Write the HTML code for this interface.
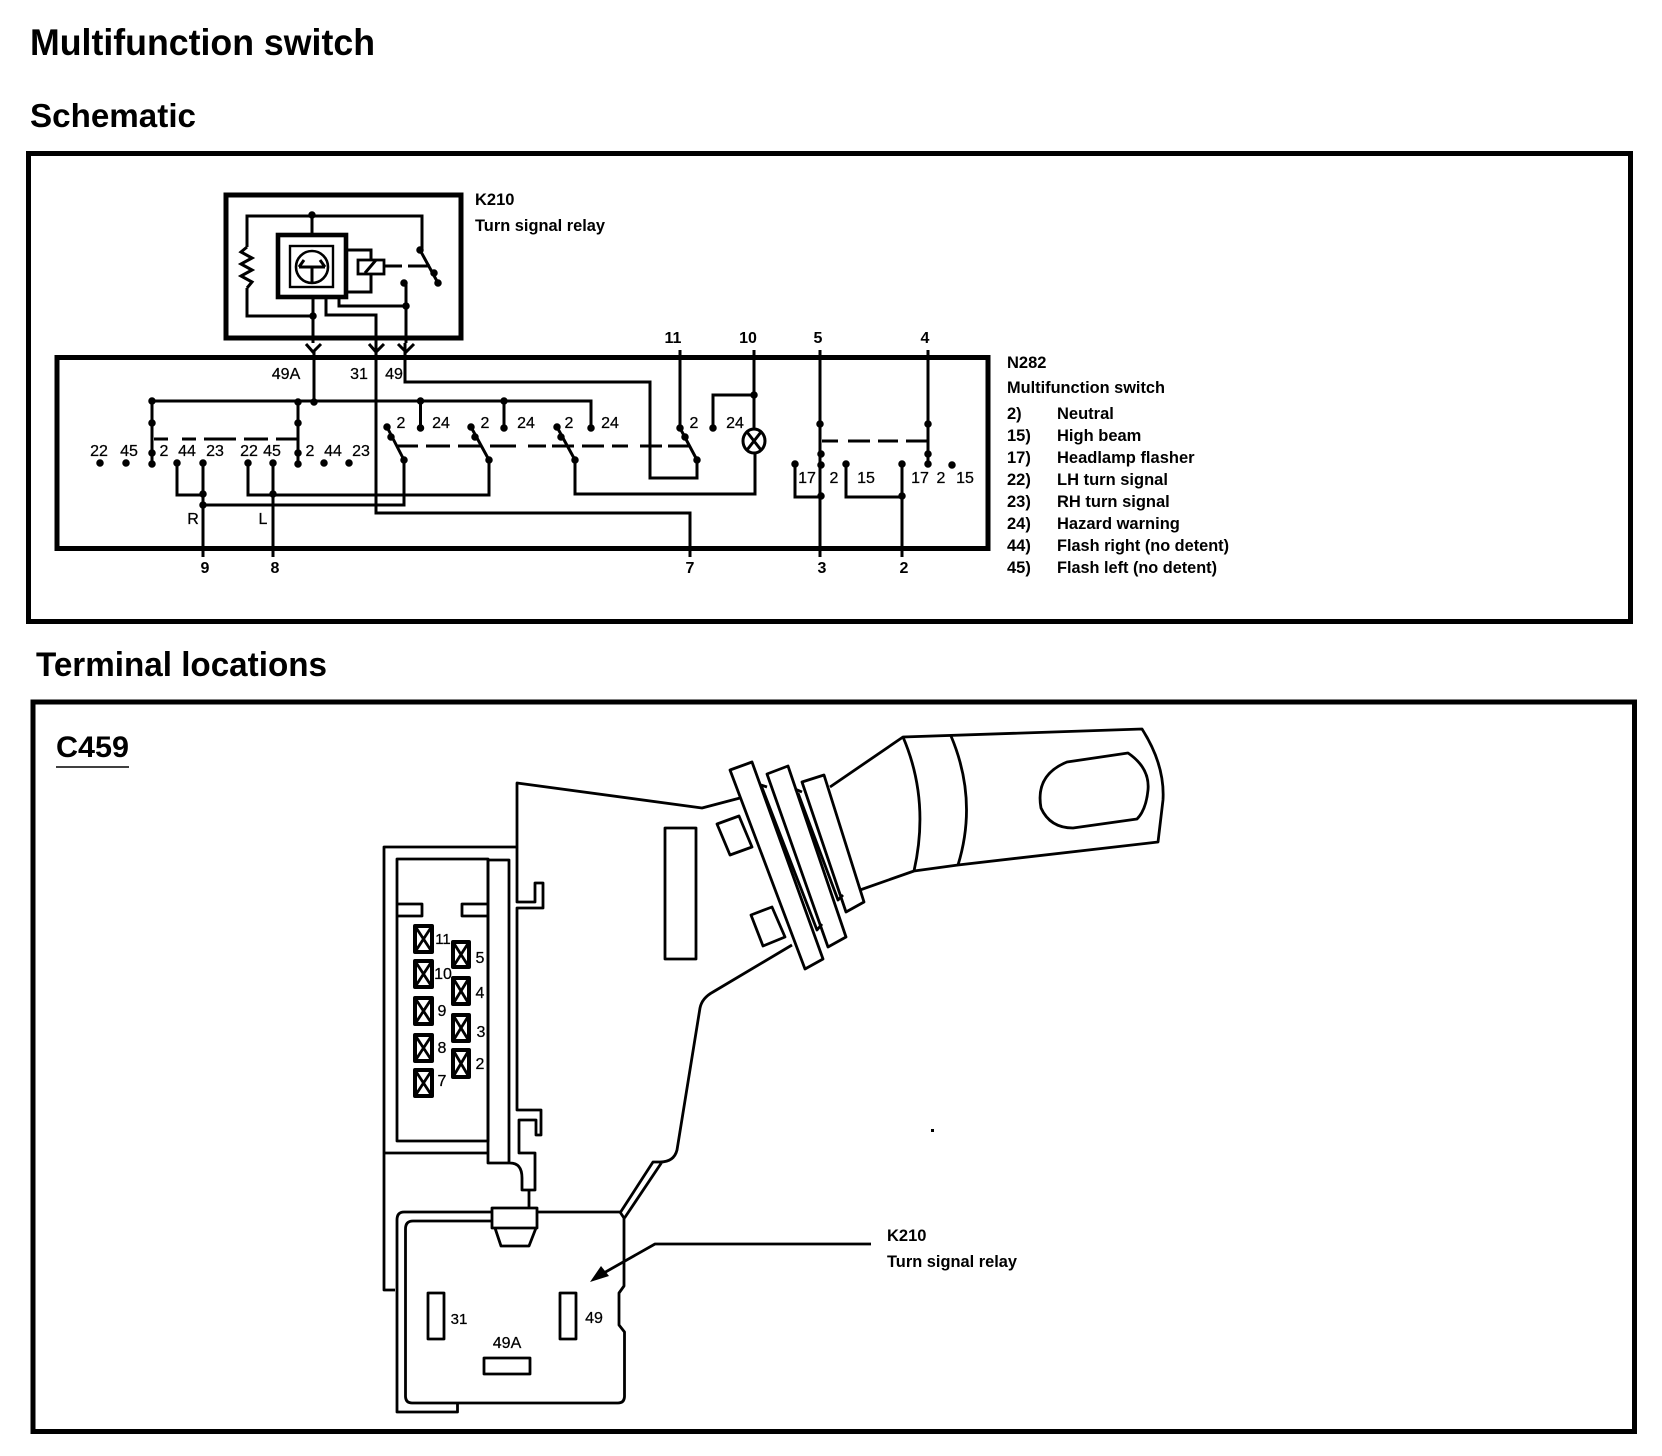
<!DOCTYPE html>
<html><head><meta charset="utf-8"><title>Multifunction switch</title>
<style>
html,body{margin:0;padding:0;background:#fff}
svg{display:block}
text{font-family:"Liberation Sans",sans-serif;fill:#000}
.b{font-weight:bold}
.h{font-weight:bold}
.l{fill:none;stroke:#000;stroke-width:3;stroke-linejoin:miter}
.t{fill:none;stroke:#000;stroke-width:2.8;stroke-linejoin:round}
.f{fill:none;stroke:#000;stroke-width:5}
.d{fill:none;stroke:#000;stroke-width:7.5;stroke-linecap:round}
.n{font-size:16px;text-anchor:middle;stroke:#000;stroke-width:.25}
.s{font-size:16px;font-weight:bold;text-anchor:middle}
.k{font-size:16.5px;font-weight:bold}
.x{fill:#fff;stroke:#000;stroke-width:4}
</style></head><body>
<svg width="1662" height="1456" viewBox="0 0 1662 1456" xmlns="http://www.w3.org/2000/svg">
<rect width="1662" height="1456" fill="#fff"/>
<text class="h" x="30" y="55" font-size="37" textLength="345" lengthAdjust="spacingAndGlyphs">Multifunction switch</text>
<text class="h" x="30" y="127" font-size="33" textLength="166" lengthAdjust="spacingAndGlyphs">Schematic</text>
<text class="h" x="36" y="676" font-size="34" textLength="291" lengthAdjust="spacingAndGlyphs">Terminal locations</text>
<rect class="f" x="28.5" y="153.5" width="1602" height="468"/>
<rect class="f" x="33" y="702" width="1601.5" height="729.5"/>

<!-- K210 block -->
<rect class="f" x="226" y="195" width="235" height="143"/>
<path class="l" d="M247 288V316H313M247 247V216H422V250M312 216V235M313 297V343M326 297V315H376V343M339 297V306H406M406 283V343"/>
<path class="l" stroke-width="2.4" d="M247 247l-6 5 11 6-11 6 11 6-11 6 11 6-5 6"/>
<rect x="278" y="235" width="68" height="62" fill="none" stroke="#000" stroke-width="4.6"/>
<rect x="290" y="246" width="43" height="41" fill="none" stroke="#000" stroke-width="2.4"/>
<circle cx="312" cy="267" r="16" fill="none" stroke="#000" stroke-width="2.6"/>
<path class="l" stroke-width="2.4" d="M299 267H325M312 267V283M299 267l5-7M325 267l-5-7"/>
<path class="l" d="M348 250H371V260M348 292H371V273"/>
<rect x="358" y="260" width="26" height="14" fill="none" stroke="#000" stroke-width="2.8"/>
<path class="l" stroke-width="2" d="M365 273L376 260"/>
<path class="l" d="M385 266H402M408 266H430M420 250L438 283"/>
<path class="l" d="M306 344L313 352L321 344M369 344L376 352L384 344M398 344L406 352L414 344"/>

<!-- N282 block -->
<rect class="f" x="57" y="357.5" width="931" height="191"/>
<path class="l" d="M314 350V402M376 343V513H690V557M405 343V382H650V478H697V460M152 401H591V428M152 401V465M298 401V465M420.5 401V428M504 401V428"/>
<path class="l" d="M154 439H168M182 439H196M204 439H236M244 439H268M276 439H298" />
<path class="l" d="M177 463V495H203M203 463V557M248 463V495H489V460M273 463V557M404 460V505H203"/>
<path class="l" d="M387 427L404 460M471 427L489 460M557 427L575 460M680 428L697 460M575 460V494H755V453M680 350V428M754 350V429M754 395H713V428"/>
<path class="l" d="M397 446H418M426 446H450M458 446H482M490 446H516M528 446H546M552 446H574M582 446H604M612 446H628M640 446H662M668 446H690"/>
<ellipse cx="754" cy="441" rx="11" ry="12" class="l"/>
<path class="l" d="M747 432L761 450M761 432L747 450"/>
<path class="l" d="M820 350V557M928 350V465M822 441H838M848 441H870M878 441H898M906 441H928"/>
<path class="l" d="M795 464V497H821M846 464V497H902M902 464V557"/>
<path class="d" d="M152 401h0M298 402h0M314 402h0M420.5 401h0M504 401h0M152 423h0M298 423h0M152 453h0M298 453h0M100 463h0M126 463h0M152 464h0M177 463h0M203 463h0M248 463h0M273 463h0M298 464h0M324 463h0M349 463h0M203 494h0M203 505h0M273 494h0M387 427h0M391 437h0M404 460h0M471 427h0M475 437h0M489 460h0M557 427h0M561 437h0M575 460h0M680 428h0M685 437h0M697 460h0M420.5 428h0M504 428h0M591 428h0M713 428h0M754 395h0M820 424h0M821 454h0M821 465h0M821 496h0M928 424h0M928 454h0M928 464h0M795 464h0M846 464h0M902 464h0M902 496h0M952 465h0M312 215h0M313 316h0M420 250h0M434 273h0M438 283h0M404 283h0M406 306h0"/>

<g class="n">
<text class="n" x="99" y="456">22</text><text class="n" x="129" y="456">45</text><text class="n" x="164" y="456">2</text><text class="n" x="187" y="456">44</text><text class="n" x="215" y="456">23</text>
<text class="n" x="249" y="456">22</text><text class="n" x="272" y="456">45</text><text class="n" x="310" y="456">2</text><text class="n" x="333" y="456">44</text><text class="n" x="361" y="456">23</text>
<text class="n" x="401" y="428">2</text><text class="n" x="441" y="428">24</text><text class="n" x="485" y="428">2</text><text class="n" x="526" y="428">24</text><text class="n" x="569" y="428">2</text><text class="n" x="610" y="428">24</text><text class="n" x="694" y="428">2</text><text class="n" x="735" y="428">24</text>
<text class="n" x="286" y="379">49A</text><text class="n" x="359" y="379">31</text><text class="n" x="394" y="379">49</text>
<text class="n" x="193" y="524">R</text><text class="n" x="263" y="524">L</text>
<text class="n" x="807" y="483">17</text><text class="n" x="834" y="483">2</text><text class="n" x="866" y="483">15</text><text class="n" x="920" y="483">17</text><text class="n" x="941" y="483">2</text><text class="n" x="965" y="483">15</text>
</g>
<text class="s" x="673" y="343">11</text><text class="s" x="748" y="343">10</text><text class="s" x="818" y="343">5</text><text class="s" x="925" y="343">4</text>
<text class="s" x="205" y="573">9</text><text class="s" x="275" y="573">8</text><text class="s" x="690" y="573">7</text><text class="s" x="822" y="573">3</text><text class="s" x="904" y="573">2</text>

<text class="k" x="475" y="205">K210</text>
<text class="k" x="475" y="231" textLength="130" lengthAdjust="spacingAndGlyphs">Turn signal relay</text>
<text class="k" x="1007" y="368">N282</text>
<text class="k" x="1007" y="393" textLength="158" lengthAdjust="spacingAndGlyphs">Multifunction switch</text>
<text class="k" x="1007" y="419">2)</text><text class="k" x="1057" y="419">Neutral</text>
<text class="k" x="1007" y="441">15)</text><text class="k" x="1057" y="441">High beam</text>
<text class="k" x="1007" y="463">17)</text><text class="k" x="1057" y="463">Headlamp flasher</text>
<text class="k" x="1007" y="485">22)</text><text class="k" x="1057" y="485">LH turn signal</text>
<text class="k" x="1007" y="507">23)</text><text class="k" x="1057" y="507">RH turn signal</text>
<text class="k" x="1007" y="529">24)</text><text class="k" x="1057" y="529">Hazard warning</text>
<text class="k" x="1007" y="551">44)</text><text class="k" x="1057" y="551" textLength="172" lengthAdjust="spacingAndGlyphs">Flash right (no detent)</text>
<text class="k" x="1007" y="573">45)</text><text class="k" x="1057" y="573" textLength="160" lengthAdjust="spacingAndGlyphs">Flash left (no detent)</text>

<!-- Terminal locations -->
<text class="h" x="56" y="757" font-size="30" textLength="73" lengthAdjust="spacingAndGlyphs">C459</text>
<path d="M56 767H129" stroke="#000" stroke-width="1.5"/>

<!-- switch body -->
<path class="t" d="M740 798L702 808L517 783V902H535V883H543V908H517V1110H541V1135H536V1120H519V1153H535V1190H522V1178Q522 1163 510 1163H488V860H509V1163"/>
<path class="t" d="M517 847H384V1290H395M384 1153H488"/>
<rect class="t" x="397" y="859" width="91" height="282"/>
<path class="t" d="M398 904H422V916H398M487 904H462V916H487"/>
<rect class="t" x="665" y="828" width="31" height="131"/>
<path class="t" d="M792 945L713 992Q702 998 700 1008L677 1150Q674 1162 660 1162H653L620 1213M662 1162L624.5 1218"/>

<!-- lever -->
<path class="t" d="M730 770L752 762L823 959L805 969Z"/>
<path class="t" d="M767 774L788 766L846 937L828 947Z"/>
<path class="t" d="M802 782L824 775L864 902L846 912Z"/>
<path class="t" d="M761 785L767 787M761 785L817 930L822 924M795 789L802 792M798 793L838 900L843 895"/>
<path class="t" d="M717 824L739 816L752 847L730 855Z"/>
<path class="t" d="M751 915L772 907L785 937L763 946Z"/>
<path class="t" d="M830 787L903 737L1142 729Q1165 765 1163 800L1158 842L958 865L914 871L860 890"/>
<path class="t" d="M903 737Q930 800 914 871M951 736Q978 800 958 865"/>
<path class="t" d="M1067 762L1128 753Q1150 768 1148 790Q1146 810 1137 819L1073 828Q1050 828 1041 808Q1035 775 1067 762Z"/>

<!-- terminals -->
<g class="t" stroke-width="1.8">
<rect class="x" x="415" y="926" width="17" height="26"/><rect class="x" x="415" y="961" width="17" height="26"/><rect class="x" x="415" y="998" width="17" height="26"/><rect class="x" x="415" y="1035" width="17" height="26"/><rect class="x" x="415" y="1070" width="17" height="26"/>
<rect class="x" x="453" y="942" width="16" height="25"/><rect class="x" x="453" y="978" width="16" height="26"/><rect class="x" x="453" y="1015" width="16" height="26"/><rect class="x" x="453" y="1050" width="16" height="27"/>
</g>
<path class="t" d="M415 926l17 26M432 926l-17 26M415 961l17 26M432 961l-17 26M415 998l17 26M432 998l-17 26M415 1035l17 26M432 1035l-17 26M415 1070l17 26M432 1070l-17 26M453 942l16 25M469 942l-16 25M453 978l16 26M469 978l-16 26M453 1015l16 26M469 1015l-16 26M453 1050l16 27M469 1050l-16 27"/>
<text class="n" x="443" y="944" style="font-size:15px">11</text><text class="n" x="443" y="979">10</text><text class="n" x="442" y="1016">9</text><text class="n" x="442" y="1053">8</text><text class="n" x="442" y="1086">7</text>
<text class="n" x="480" y="963">5</text><text class="n" x="480" y="998">4</text><text class="n" x="481" y="1037">3</text><text class="n" x="480" y="1069">2</text>

<!-- relay -->
<path class="t" d="M529 1190V1208"/>
<path class="t" d="M492 1208H537V1228H492ZM495 1228L501 1246H529L536 1228"/>
<path class="t" d="M492 1212H404Q397 1212 397 1220V1412H457.5V1403"/>
<path class="t" d="M492 1221H413Q405.5 1221 405.5 1229V1396Q405.5 1403 412 1403H618Q624.5 1403 624.5 1396V1332L619 1325V1293L624 1286V1218L620 1212H538"/>
<rect class="t" x="428" y="1293" width="16" height="46"/>
<rect class="t" x="560" y="1293" width="16" height="46"/>
<rect class="t" x="484" y="1358" width="46" height="16"/>
<text class="n" x="459" y="1324" style="font-size:15px">31</text><text class="n" x="594" y="1323">49</text><text class="n" x="507" y="1348">49A</text>
<path class="t" d="M871 1244H655L602 1274"/>
<path d="M590 1282L601 1266L609 1276Z" fill="#000"/>
<path d="M931 1129h3v3h-3z" fill="#000"/>
<text class="k" x="887" y="1241">K210</text>
<text class="k" x="887" y="1267" textLength="130" lengthAdjust="spacingAndGlyphs">Turn signal relay</text>
</svg>
</body></html>
